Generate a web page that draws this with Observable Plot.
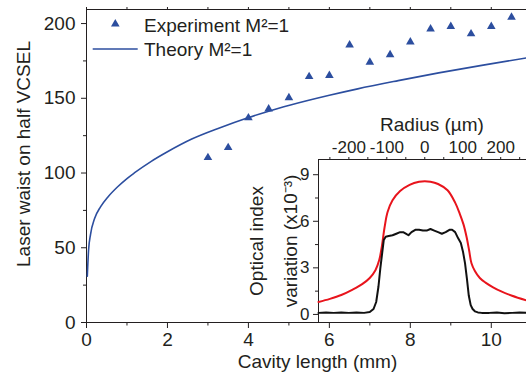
<!DOCTYPE html>
<html><head><meta charset="utf-8">
<script src="https://cdn.jsdelivr.net/npm/d3@7"></script>
<script src="https://cdn.jsdelivr.net/npm/@observablehq/plot@0.6"></script>
<style>
body{margin:0;background:#fff;}
#wrap{position:relative;width:526px;height:374px;overflow:hidden;font-family:"Liberation Sans",Arial,sans-serif;}
#wrap svg{position:absolute;left:0;top:0;}
</style></head><body><div id="wrap"></div>
<script>
// Main chart: experiment (triangles) and theory (line)
const expLength = [3,3.5,4,4.5,5,5.5,6,6.5,7,7.5,8,8.5,9,9.5,10,10.5];
const expWaist  = [110.3,117,136.9,142.9,150.3,164.5,165.2,185.7,174.1,179.2,187.7,196.4,198,193.1,198,204.2];
const theoryLength = [0.02,0.05,0.1,0.2,0.35,0.53,0.77,1.0,1.19,1.6,2.0,2.6,3.3,3.97,4.5,5.04,6.0,6.7,7.7,8.7,9.8,10.87];
const theoryWaist  = [31,48,59,69.5,77.5,84,90.8,96.3,100.2,107.8,114.2,122.7,130.3,136.8,141.4,145.5,152,156.3,161.8,167,172.2,177];
const xTicks = [0,2,4,6,8,10];
const xMinorTicks = [1,3,5,7,9];
const yTicks = [0,50,100,150,200];
const yMinorTicks = [25,75,125,175];

// Inset: optical index variation vs radius
const redRadius = [-280,-250,-220,-190,-165,-145,-130,-120,-113,-106,-98,-85,-65,-40,-15,0,15,35,60,80,92,102,110,117,123,132,145,160,180,200,230,268];
const redIndex  = [0.8,1.0,1.25,1.6,1.95,2.35,2.85,3.5,4.4,5.6,6.6,7.35,7.95,8.35,8.55,8.58,8.55,8.4,8.0,7.2,6.5,5.8,5.0,4.1,3.3,2.8,2.35,2.05,1.75,1.5,1.2,0.9];
const blackRadius = [-280,-260,-240,-220,-200,-180,-160,-145,-135,-128,-122,-117,-112,-108,-103,-95,-85,-75,-65,-57,-50,-43,-35,-25,-15,-5,5,15,25,35,45,55,65,72,80,88,95,101,106,111,116,121,126,132,140,150,170,190,210,230,250,268];
const blackIndex  = [0.1,0.12,0.1,0.13,0.1,0.12,0.1,0.15,0.35,0.8,1.8,3.0,4.0,4.8,5.0,5.05,5.1,5.2,5.3,5.3,5.2,5.1,5.3,5.45,5.45,5.4,5.4,5.5,5.4,5.3,5.2,5.3,5.45,5.45,5.3,4.9,4.6,4.0,3.3,2.3,1.2,0.6,0.35,0.2,0.13,0.1,0.1,0.12,0.08,0.1,0.12,0.1];
const rTicks = [-200,-100,0,100,200];
const rMinorTicks = [-250,-150,-50,50,150,250];
const nTicks = [0,3,6,9];
const nMinorTicks = [1.5,4.5,7.5];

const blue = "#2c4e9f", red = "#e8141c", black = "#111", ink = "#231f20";
const font = "Liberation Sans, Arial, sans-serif";

const exp = expLength.map((x,i)=>({x, y: expWaist[i]}));
const theory = theoryLength.map((x,i)=>({x, y: theoryWaist[i]}));
const redData = redRadius.map((x,i)=>({x, y: redIndex[i]}));
const blackData = blackRadius.map((x,i)=>({x, y: blackIndex[i]}));
const blank = () => "";

const xMax = 10.87, yMax = 209.4;
const main = Plot.plot({
  width:526, height:374, marginLeft:86, marginRight:0, marginTop:9, marginBottom:52,
  style:{fontFamily:font, fontSize:"19px", color:ink, background:"transparent", overflow:"visible"},
  x:{domain:[0,xMax]}, y:{domain:[0,yMax]},
  marks:[
    Plot.axisX(xTicks, {tickSize:6, tickPadding:4, label:null, tickFormat:d=>String(d)}),
    Plot.axisX(xMinorTicks, {tickSize:3.5, tickFormat:blank, label:null}),
    Plot.axisX([...xTicks,...xMinorTicks], {anchor:"top", tickSize:3, tickFormat:blank, label:null}),
    Plot.axisY(yTicks, {tickSize:5, tickPadding:6, label:null, tickFormat:d=>String(d)}),
    Plot.axisY(yMinorTicks, {tickSize:3, tickFormat:blank, label:null}),
    Plot.ruleX([0], {stroke:ink}),
    Plot.ruleY([0], {stroke:ink}),
    Plot.ruleY([yMax], {stroke:ink}),
    Plot.line(theory, {x:"x", y:"y", stroke:blue, strokeWidth:1.6, curve:"monotone-x"}),
    Plot.dot(exp, {x:"x", y:"y", symbol:"triangle", r:3.2, fill:blue, stroke:null}),
    Plot.text(["Cavity length (mm)"], {text:d=>d, frameAnchor:"bottom", textAnchor:"middle", dx:11, dy:39, lineAnchor:"middle", fontSize:19, fill:ink}),
    Plot.text(["Laser waist on half VCSEL"], {text:d=>d, frameAnchor:"left", textAnchor:"middle", rotate:-90, dx:-62.5, dy:-12, lineAnchor:"middle", fontSize:19, fill:ink})
  ]
});

const inset = Plot.plot({
  width:526, height:374, marginLeft:318, marginRight:0, marginTop:159, marginBottom:52,
  style:{fontFamily:font, fontSize:"17px", color:ink, background:"transparent", overflow:"visible"},
  x:{domain:[-280,268]}, y:{domain:[-0.52,9.98]},
  marks:[
    Plot.axisX(rTicks, {anchor:"top", tickSize:3, tickPadding:4, label:null, tickFormat:d=> d<0 ? "-"+Math.abs(d) : String(d)}),
    Plot.axisX(rMinorTicks, {anchor:"top", tickSize:3, tickFormat:blank, label:null}),
    Plot.axisY(nTicks, {tickSize:5, tickPadding:4, label:null, tickFormat:d=>String(d)}),
    Plot.axisY(nMinorTicks, {tickSize:3, tickFormat:blank, label:null}),
    Plot.ruleX([-280], {stroke:ink}),
    Plot.ruleY([9.98], {stroke:ink}),
    Plot.line(redData, {x:"x", y:"y", stroke:red, strokeWidth:2, curve:"catmull-rom"}),
    Plot.line(blackData, {x:"x", y:"y", stroke:black, strokeWidth:2}),
    Plot.text(["Radius (µm)"], {text:d=>d, frameAnchor:"top", textAnchor:"middle", dx:9.5, dy:-35, lineAnchor:"middle", fontSize:19, fill:ink}),
    Plot.text(["Optical index\nvariation (x10⁻³)"], {text:d=>d, frameAnchor:"left", textAnchor:"middle", rotate:-90, dx:-49, lineAnchor:"middle", lineHeight:1.76, fontSize:19, fill:ink})
  ]
});

const wrap = document.getElementById("wrap");
wrap.appendChild(main);
wrap.appendChild(inset);

// Legend overlay
const legend = d3.select(wrap).append("svg").attr("width",526).attr("height",374)
  .style("font-family", font).style("font-size","19px");
const tri = d3.symbol(d3.symbolTriangle, 3.2*3.2*Math.PI)();
legend.append("path").attr("d", tri).attr("transform","translate(115.3,24)").attr("fill", blue);
legend.append("text").attr("x",144).attr("y",25).attr("dy","0.35em").attr("fill",ink).text("Experiment M²=1");
legend.append("line").attr("x1",92.7).attr("x2",137.7).attr("y1",49).attr("y2",49).attr("stroke",blue).attr("stroke-width",1.6);
legend.append("text").attr("x",144).attr("y",49).attr("dy","0.35em").attr("fill",ink).text("Theory M²=1");
</script></body></html>
